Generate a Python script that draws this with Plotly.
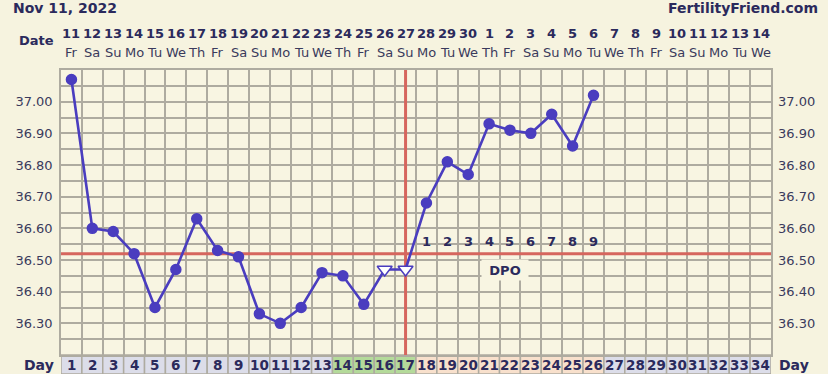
import plotly.graph_objects as go

# ---------------- data ----------------
days = list(range(1, 35))
date_nums = [str(d) for d in range(11, 31)] + [str(d) for d in range(1, 15)]
weekdays = (["Fr", "Sa", "Su", "Mo", "Tu", "We", "Th"] * 5)[:34]
temp_days = list(range(1, 27))
temps = [37.07, 36.60, 36.59, 36.52, 36.35, 36.47, 36.63, 36.53, 36.51, 36.33,
         36.30, 36.35, 36.46, 36.45, 36.36, 36.47, 36.47, 36.68, 36.81, 36.77,
         36.93, 36.91, 36.90, 36.96, 36.86, 37.02]
open_days = [16, 17]            # triangle (open) markers
fertile_days = [14, 15, 16, 17]  # green cells
luteal_days = list(range(18, 27))  # peach cells
dpo_days = list(range(18, 27))
dpo_labels = [str(i) for i in range(1, 10)]
coverline = 36.52
ovulation_day = 17
y_min, y_max = 36.2, 37.1
ytick_vals = [36.30, 36.40, 36.50, 36.60, 36.70, 36.80, 36.90, 37.00]
ytick_text = ["%.2f" % v for v in ytick_vals]

# ---------------- style ----------------
FONT = "DejaVu Sans"
NAVY = "#2b2a5c"
TXT = "#3a3a5c"
BG = "#f6f3df"
PLOT_BG = "#f8f5e2"
GRID = "#aeaba0"
RED = "#d6665e"
BLUE = "#4a3dbf"
CELL_GRAY = "#dcdde9"
CELL_GREEN = "#b4da9a"
CELL_PEACH = "#f8e0cc"

W, H = 828, 374
ML, MR, MT, MB = 61, 57, 70, 19
PW, PH = W - ML - MR, H - MT - MB


def py(p):  # pixel row -> paper y
    return (H - MB - p) / PH


def pxx(p):  # pixel column -> paper x
    return (p - ML) / PW


fig = go.Figure()

# coverline and ovulation line (drawn first, under the temperature line)
fig.add_trace(go.Scatter(x=[days[0] - 0.5, days[-1] + 0.5], y=[coverline, coverline],
                         mode="lines", line=dict(color=RED, width=3),
                         showlegend=False, hoverinfo="skip"))
fig.add_trace(go.Scatter(x=[ovulation_day, ovulation_day], y=[y_min, y_max],
                         mode="lines", line=dict(color=RED, width=3),
                         showlegend=False, hoverinfo="skip"))

symbols = ["triangle-down" if d in open_days else "circle" for d in temp_days]
mcolors = ["white" if d in open_days else BLUE for d in temp_days]
msizes = [13 if d in open_days else 10 for d in temp_days]

fig.add_trace(go.Scatter(
    x=temp_days, y=temps, mode="lines+markers",
    line=dict(color=BLUE, width=2.6),
    marker=dict(symbol=symbols, color=mcolors, size=msizes, opacity=1,
                line=dict(color=BLUE, width=1.5)),
    showlegend=False, hoverinfo="skip", cliponaxis=False,
))
# invisible trace to carry right-hand axis
fig.add_trace(go.Scatter(x=[1], y=[36.5], yaxis="y2", mode="markers",
                         marker=dict(opacity=0), showlegend=False, hoverinfo="skip"))

shapes = []
# day row cells
for d in days:
    if d in fertile_days:
        c = CELL_GREEN
    elif d in luteal_days:
        c = CELL_PEACH
    else:
        c = CELL_GRAY
    shapes.append(dict(type="rect", xref="x", yref="paper",
                       x0=d - 0.5, x1=d + 0.5, y0=py(H), y1=0,
                       fillcolor=c, line=dict(color=GRID, width=1.5), layer="below"))

ann = []
ann.append(dict(text="<b>Nov 11, 2022</b>", xref="paper", yref="paper",
                x=pxx(11), y=py(8), xanchor="left", yanchor="middle",
                showarrow=False, font=dict(family=FONT, size=14, color=NAVY)))
ann.append(dict(text="<b>FertilityFriend.com</b>", xref="paper", yref="paper",
                x=pxx(820), y=py(8), xanchor="right", yanchor="middle",
                showarrow=False, font=dict(family=FONT, size=14, color=NAVY)))
ann.append(dict(text="<b>Date</b>", xref="paper", yref="paper",
                x=pxx(56), y=py(41), xanchor="right", yanchor="middle",
                showarrow=False, font=dict(family=FONT, size=13, color=NAVY)))
for d, n, w in zip(days, date_nums, weekdays):
    ann.append(dict(text="<b>%s</b>" % n, xref="x", yref="paper", x=d, y=py(33),
                    xanchor="center", yanchor="middle", showarrow=False,
                    font=dict(family=FONT, size=13, color=NAVY)))
    ann.append(dict(text=w, xref="x", yref="paper", x=d, y=py(52),
                    xanchor="center", yanchor="middle", showarrow=False,
                    font=dict(family=FONT, size=13, color=TXT)))
    # day-of-cycle number in the bottom row
    ann.append(dict(text="<b>%d</b>" % d, xref="x", yref="paper", x=d, y=py(365),
                    xanchor="center", yanchor="middle", showarrow=False,
                    font=dict(family=FONT, size=13.5, color=NAVY)))
ann.append(dict(text="<b>Day</b>", xref="paper", yref="paper",
                x=pxx(56), y=py(365), xanchor="right", yanchor="middle",
                showarrow=False, font=dict(family=FONT, size=14, color=NAVY)))
ann.append(dict(text="<b>Day</b>", xref="paper", yref="paper",
                x=pxx(777), y=py(365), xanchor="left", yanchor="middle",
                showarrow=False, font=dict(family=FONT, size=14, color=NAVY)))
for d, t in zip(dpo_days, dpo_labels):
    ann.append(dict(text="<b>%s</b>" % t, xref="x", yref="y", x=d, y=36.56,
                    xanchor="center", yanchor="middle", showarrow=False,
                    font=dict(family=FONT, size=13, color=NAVY)))
ann.append(dict(text="<b>DPO</b>", xref="x", yref="y", x=21.75, y=36.47,
                xanchor="center", yanchor="middle", showarrow=False,
                width=44, height=18, bgcolor=PLOT_BG,
                font=dict(family=FONT, size=13, color=NAVY)))

fig.update_layout(
    width=W, height=H,
    margin=dict(l=ML, r=MR, t=MT, b=MB, pad=0, autoexpand=False),
    paper_bgcolor=BG, plot_bgcolor=PLOT_BG,
    font=dict(family=FONT, color=TXT),
    shapes=shapes, annotations=ann,
    xaxis=dict(range=[0.5, 34.5], tickvals=days, showticklabels=False,
               automargin=False,
               ticks="", showgrid=False, zeroline=False,
               showline=True, linecolor=GRID, linewidth=1.5, mirror=True,
               minor=dict(tickvals=[d + 0.5 for d in range(0, 35)],
                          showgrid=True, gridcolor=GRID, gridwidth=1.5, ticks=""),
               fixedrange=True),
    yaxis=dict(range=[y_min, y_max], tickvals=ytick_vals, ticktext=ytick_text,
               tickfont=dict(family=FONT, size=13, color=TXT),
               ticks="", showgrid=True, gridcolor=GRID, gridwidth=1.5, zeroline=False,
               showline=True, linecolor=GRID, linewidth=1.5, mirror=True,
               minor=dict(dtick=0.05, tick0=36.2, showgrid=True,
                          gridcolor=GRID, gridwidth=1.5, ticks=""),
               ticklabelstandoff=4, automargin=False, fixedrange=True),
    yaxis2=dict(overlaying="y", side="right", matches="y",
                tickvals=ytick_vals, ticktext=ytick_text,
                tickfont=dict(family=FONT, size=13, color=TXT),
                ticks="", showgrid=False, zeroline=False, showline=False,
                ticklabelstandoff=6, automargin=False, fixedrange=True),
)

fig.write_html("out.html", config={"displayModeBar": False})
